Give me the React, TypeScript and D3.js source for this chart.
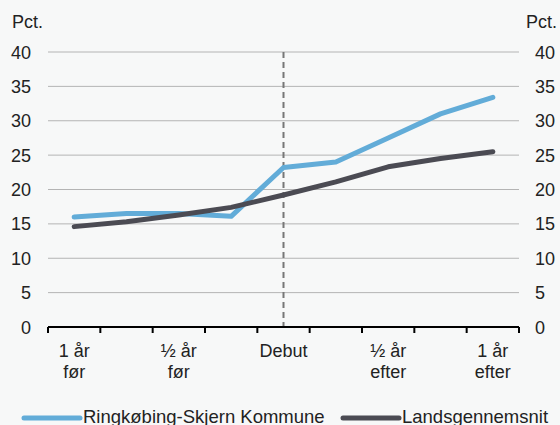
import { useEffect, useRef } from 'react';
import * as d3 from 'd3';

// 9 periods, labels only on every second one
const periods = ['p0', 'p1', 'p2', 'p3', 'p4', 'p5', 'p6', 'p7', 'p8'];
const periodLabels = [['1 år', 'før'], [], ['½ år', 'før'], [], ['Debut'], [], ['½ år', 'efter'], [], ['1 år', 'efter']];
const ringkobing = [16.0, 16.5, 16.5, 16.1, 23.2, 24.0, 27.5, 31.0, 33.4];
const landsgennemsnit = [14.6, 15.3, 16.3, 17.4, 19.2, 21.1, 23.3, 24.5, 25.5];
const yTicks = [0, 5, 10, 15, 20, 25, 30, 35, 40];
const seriesNames = ['Ringkøbing-Skjern Kommune', 'Landsgennemsnit'];
const debutIndex = 4;

export default function App() {
  const svgRef = useRef<SVGSVGElement>(null);

  useEffect(() => {
    if (!svgRef.current) return;
    const svg = d3.select(svgRef.current);
    svg.selectAll('*').remove();

    const W = 560;
    const H = 425;
    const left = 48;
    const right = 519;
    const top = 52;
    const bottom = 327;
    const font = '"Liberation Sans", Arial, sans-serif';
    const textColor = '#222';

    svg.append('rect').attr('width', W).attr('height', H).attr('fill', '#f7f8f8');

    const x = d3.scaleBand<string>().domain(periods).range([left, right]).padding(0);
    const y = d3.scaleLinear().domain([0, 40]).range([bottom, top]);
    const cx = (i: number) => (x(periods[i]) as number) + x.bandwidth() / 2;

    // gridlines
    svg
      .append('g')
      .selectAll('line')
      .data(yTicks.filter(d => d > 0))
      .enter()
      .append('line')
      .attr('x1', left)
      .attr('x2', right)
      .attr('y1', d => y(d))
      .attr('y2', d => y(d))
      .attr('stroke', '#b4b4b4')
      .attr('stroke-width', 1);

    // y labels both sides
    const yl = svg.append('g').attr('font-family', font).attr('font-size', 18).attr('fill', textColor);
    yl.selectAll('text.l')
      .data(yTicks)
      .enter()
      .append('text')
      .attr('class', 'l')
      .attr('x', 31)
      .attr('y', d => y(d) + 6.5)
      .attr('text-anchor', 'end')
      .text(d => d);
    yl.selectAll('text.r')
      .data(yTicks)
      .enter()
      .append('text')
      .attr('class', 'r')
      .attr('x', 535)
      .attr('y', d => y(d) + 6.5)
      .attr('text-anchor', 'start')
      .text(d => d);
    yl.append('text').attr('x', 12).attr('y', 28).text('Pct.');
    yl.append('text').attr('x', 557).attr('y', 28).attr('text-anchor', 'end').text('Pct.');

    // debut marker
    svg
      .append('line')
      .attr('x1', cx(debutIndex))
      .attr('x2', cx(debutIndex))
      .attr('y1', top)
      .attr('y2', bottom)
      .attr('stroke', '#777')
      .attr('stroke-width', 2)
      .attr('stroke-dasharray', '6,4');

    // x axis
    svg
      .append('line')
      .attr('x1', left)
      .attr('x2', right)
      .attr('y1', bottom)
      .attr('y2', bottom)
      .attr('stroke', '#000')
      .attr('stroke-width', 2);
    const boundaries = periods.map(p => x(p) as number).concat([right]);
    svg
      .append('g')
      .selectAll('line')
      .data(boundaries)
      .enter()
      .append('line')
      .attr('x1', d => d)
      .attr('x2', d => d)
      .attr('y1', bottom)
      .attr('y2', bottom + 6)
      .attr('stroke', '#000')
      .attr('stroke-width', 2);

    const xl = svg.append('g').attr('font-family', font).attr('font-size', 18).attr('fill', textColor).attr('text-anchor', 'middle');
    periodLabels.forEach((lines, i) => {
      lines.forEach((t, j) => {
        xl.append('text').attr('x', cx(i)).attr('y', 357 + j * 21).text(t);
      });
    });

    // lines
    const line = d3
      .line<number>()
      .x((_, i) => cx(i))
      .y(d => y(d));
    const colors = ['#62acd8', '#4b4b53'];
    [ringkobing, landsgennemsnit].forEach((s, k) => {
      svg
        .append('path')
        .datum(s)
        .attr('d', line)
        .attr('fill', 'none')
        .attr('stroke', colors[k])
        .attr('stroke-width', 5)
        .attr('stroke-linecap', 'round')
        .attr('stroke-linejoin', 'round');
    });

    // legend
    const legendX = [24, 343];
    seriesNames.forEach((name, k) => {
      svg
        .append('line')
        .attr('x1', legendX[k])
        .attr('x2', legendX[k] + 56)
        .attr('y1', 418)
        .attr('y2', 418)
        .attr('stroke', colors[k])
        .attr('stroke-width', 5)
        .attr('stroke-linecap', 'round');
      svg
        .append('text')
        .attr('x', legendX[k] + 59)
        .attr('y', 423)
        .attr('font-family', font)
        .attr('font-size', 18.5)
        .attr('fill', textColor)
        .text(name);
    });
  }, []);

  return <svg ref={svgRef} width={560} height={425} style={{ position: 'absolute', left: 0, top: 0 }} />;
}
